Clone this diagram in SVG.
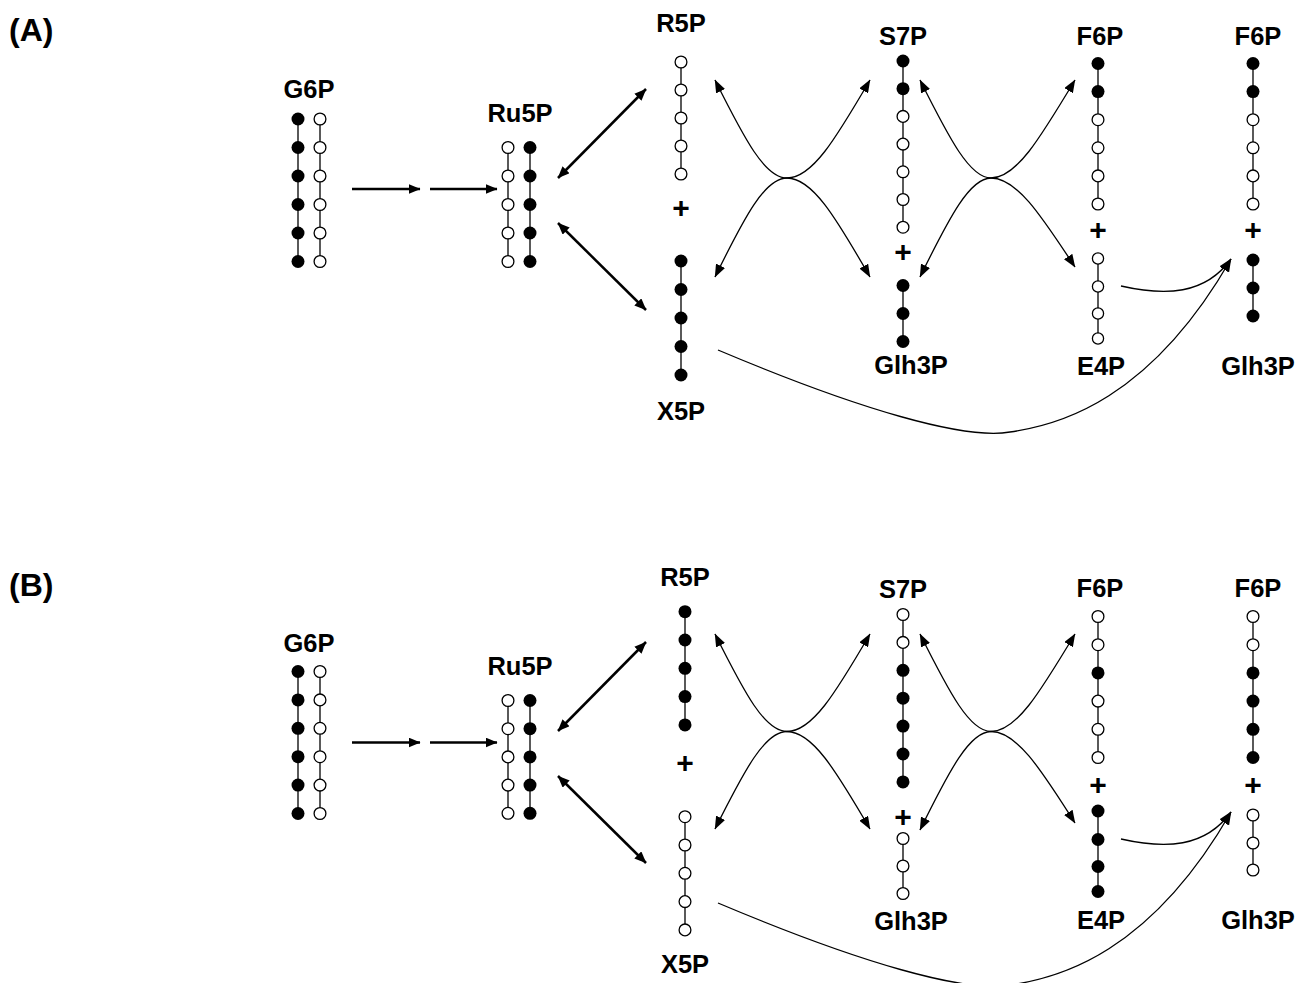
<svg xmlns="http://www.w3.org/2000/svg" width="1300" height="983" viewBox="0 0 1300 983">
<defs>
<style>
.lbl{font-family:"Liberation Sans",Arial,sans-serif;font-weight:bold;font-size:25.5px;text-anchor:middle;fill:#000}
.pan{font-family:"Liberation Sans",Arial,sans-serif;font-weight:bold;font-size:32px;fill:#000}
.pl{font-family:"Liberation Sans",Arial,sans-serif;font-weight:bold;font-size:30px;text-anchor:middle;fill:#000}
.ch{stroke:#000;stroke-width:1.3;fill:none}
.b{fill:#000}
.w{fill:#fff;stroke:#000;stroke-width:1.3}
.thick{stroke:#000;stroke-width:2.5;fill:none}
.thin{stroke:#000;stroke-width:1.3;fill:none}
</style>
<marker id="ahK" viewBox="0 0 12 10" refX="11.5" refY="5" markerWidth="12" markerHeight="10" markerUnits="userSpaceOnUse" orient="auto-start-reverse"><path d="M0,0 L12,5 L0,10 z" fill="#000"/></marker>
<marker id="ahT" viewBox="0 0 13 10" refX="12.5" refY="5" markerWidth="13" markerHeight="10" markerUnits="userSpaceOnUse" orient="auto-start-reverse"><path d="M0,0 L13,5 L0,10 z" fill="#000"/></marker>
</defs>
<rect width="1300" height="983" fill="#fff"/>

<text class="pan" x="9" y="41">(A)</text>
<text class="pan" x="9" y="596">(B)</text>

<g id="connectors">
<path class="thick" d="M352,189 L420,189" marker-end="url(#ahK)"/>
<path class="thick" d="M430,189 L497,189" marker-end="url(#ahK)"/>
<path class="thick" d="M558,178 L646,89" marker-start="url(#ahK)" marker-end="url(#ahK)"/>
<path class="thick" d="M558,223 L646,310" marker-start="url(#ahK)" marker-end="url(#ahK)"/>
<path class="thin" d="M715,80 C745,140 765,178 787,178 C812,178 835,140 870,80" marker-start="url(#ahT)" marker-end="url(#ahT)"/>
<path class="thin" d="M715,277 C745,216 765,178 787,178 C812,178 835,216 870,277" marker-start="url(#ahT)" marker-end="url(#ahT)"/>
<path class="thin" d="M920,80 C950,140 970,178 991,178 C1016,178 1039,140 1075,80" marker-start="url(#ahT)" marker-end="url(#ahT)"/>
<path class="thin" d="M920,277 C950,216 970,178 991,178 C1016,178 1039,212 1075,267" marker-start="url(#ahT)" marker-end="url(#ahT)"/>
<path class="thin" d="M1121,286 C1165,296 1205,295 1231,259" marker-end="url(#ahT)"/>
<path class="thin" d="M718,350 C860,410 965,440 1010,432 C1060,425 1150,400 1231,259" marker-end="url(#ahT)"/>

<path class="thick" d="M352,742.5 L420,742.5" marker-end="url(#ahK)"/>
<path class="thick" d="M430,742.5 L497,742.5" marker-end="url(#ahK)"/>
<path class="thick" d="M558,731 L646,642" marker-start="url(#ahK)" marker-end="url(#ahK)"/>
<path class="thick" d="M558,776 L646,863" marker-start="url(#ahK)" marker-end="url(#ahK)"/>
<path class="thin" d="M715,634 C745,694 765,731.5 787,731.5 C812,731.5 835,694 870,634" marker-start="url(#ahT)" marker-end="url(#ahT)"/>
<path class="thin" d="M715,829 C745,769 765,731.5 787,731.5 C812,731.5 835,769 870,829" marker-start="url(#ahT)" marker-end="url(#ahT)"/>
<path class="thin" d="M920,634 C950,694 970,731.5 991,731.5 C1016,731.5 1039,694 1075,634" marker-start="url(#ahT)" marker-end="url(#ahT)"/>
<path class="thin" d="M920,830 C950,769 970,731.5 991,731.5 C1016,731.5 1039,766 1075,823" marker-start="url(#ahT)" marker-end="url(#ahT)"/>
<path class="thin" d="M1121,839 C1165,849 1205,848 1231,812" marker-end="url(#ahT)"/>
<path class="thin" d="M718,903 C860,963 965,993 1010,985 C1060,978 1150,953 1231,812" marker-end="url(#ahT)"/>
</g>

<!-- Panel A -->
<g id="a-g6p">
<text class="lbl" x="309" y="98">G6P</text>
<line class="ch" x1="298" y1="119" x2="298" y2="261.5"/>
<line class="ch" x1="320" y1="119" x2="320" y2="261.5"/>
<circle class="b" cx="298" cy="119" r="6.5"/><circle class="b" cx="298" cy="147.5" r="6.5"/><circle class="b" cx="298" cy="176" r="6.5"/><circle class="b" cx="298" cy="204.5" r="6.5"/><circle class="b" cx="298" cy="233" r="6.5"/><circle class="b" cx="298" cy="261.5" r="6.5"/>
<circle class="w" cx="320" cy="119" r="5.9"/><circle class="w" cx="320" cy="147.5" r="5.9"/><circle class="w" cx="320" cy="176" r="5.9"/><circle class="w" cx="320" cy="204.5" r="5.9"/><circle class="w" cx="320" cy="233" r="5.9"/><circle class="w" cx="320" cy="261.5" r="5.9"/>
</g>
<g id="a-ru5p">
<text class="lbl" x="520" y="121.5">Ru5P</text>
<line class="ch" x1="508" y1="147.5" x2="508" y2="261.5"/>
<line class="ch" x1="530" y1="147.5" x2="530" y2="261.5"/>
<circle class="w" cx="508" cy="147.5" r="5.9"/><circle class="w" cx="508" cy="176" r="5.9"/><circle class="w" cx="508" cy="204.5" r="5.9"/><circle class="w" cx="508" cy="233" r="5.9"/><circle class="w" cx="508" cy="261.5" r="5.9"/>
<circle class="b" cx="530" cy="147.5" r="6.5"/><circle class="b" cx="530" cy="176" r="6.5"/><circle class="b" cx="530" cy="204.5" r="6.5"/><circle class="b" cx="530" cy="233" r="6.5"/><circle class="b" cx="530" cy="261.5" r="6.5"/>
</g>
<g id="a-r5p">
<text class="lbl" x="681" y="31.5">R5P</text>
<line class="ch" x1="681" y1="62" x2="681" y2="174"/>
<circle class="w" cx="681" cy="62" r="5.9"/><circle class="w" cx="681" cy="90" r="5.9"/><circle class="w" cx="681" cy="118" r="5.9"/><circle class="w" cx="681" cy="146" r="5.9"/><circle class="w" cx="681" cy="174" r="5.9"/>
</g>
<g id="a-plus-1"><text class="pl" x="681" y="218">+</text></g>
<g id="a-x5p">
<text class="lbl" x="681" y="420">X5P</text>
<line class="ch" x1="681" y1="261" x2="681" y2="375"/>
<circle class="b" cx="681" cy="261" r="6.5"/><circle class="b" cx="681" cy="289.5" r="6.5"/><circle class="b" cx="681" cy="318" r="6.5"/><circle class="b" cx="681" cy="346.5" r="6.5"/><circle class="b" cx="681" cy="375" r="6.5"/>
</g>
<g id="a-s7p">
<text class="lbl" x="903" y="45">S7P</text>
<line class="ch" x1="903" y1="61" x2="903" y2="227.2"/>
<circle class="b" cx="903" cy="61" r="6.5"/><circle class="b" cx="903" cy="88.7" r="6.5"/><circle class="w" cx="903" cy="116.4" r="5.9"/><circle class="w" cx="903" cy="144.1" r="5.9"/><circle class="w" cx="903" cy="171.8" r="5.9"/><circle class="w" cx="903" cy="199.5" r="5.9"/><circle class="w" cx="903" cy="227.2" r="5.9"/>
</g>
<g id="a-plus-2"><text class="pl" x="903" y="262">+</text></g>
<g id="a-glh3p-1">
<text class="lbl" x="911" y="374">Glh3P</text>
<line class="ch" x1="903" y1="285.5" x2="903" y2="341.5"/>
<circle class="b" cx="903" cy="285.5" r="6.5"/><circle class="b" cx="903" cy="313.5" r="6.5"/><circle class="b" cx="903" cy="341.5" r="6.5"/>
</g>
<g id="a-f6p-1">
<text class="lbl" x="1100" y="45">F6P</text>
<line class="ch" x1="1098" y1="63.5" x2="1098" y2="204"/>
<circle class="b" cx="1098" cy="63.5" r="6.5"/><circle class="b" cx="1098" cy="91.6" r="6.5"/><circle class="w" cx="1098" cy="119.7" r="5.9"/><circle class="w" cx="1098" cy="147.8" r="5.9"/><circle class="w" cx="1098" cy="175.9" r="5.9"/><circle class="w" cx="1098" cy="204" r="5.9"/>
</g>
<g id="a-plus-3"><text class="pl" x="1098" y="240">+</text></g>
<g id="a-e4p">
<text class="lbl" x="1101" y="375">E4P</text>
<line class="ch" x1="1098" y1="258.5" x2="1098" y2="338.5"/>
<circle class="w" cx="1098" cy="258.5" r="5.6"/><circle class="w" cx="1098" cy="286.5" r="5.6"/><circle class="w" cx="1098" cy="313.5" r="5.6"/><circle class="w" cx="1098" cy="338.5" r="5.6"/>
</g>
<g id="a-f6p-2">
<text class="lbl" x="1258" y="45">F6P</text>
<line class="ch" x1="1253" y1="63.5" x2="1253" y2="204"/>
<circle class="b" cx="1253" cy="63.5" r="6.5"/><circle class="b" cx="1253" cy="91.6" r="6.5"/><circle class="w" cx="1253" cy="119.7" r="5.9"/><circle class="w" cx="1253" cy="147.8" r="5.9"/><circle class="w" cx="1253" cy="175.9" r="5.9"/><circle class="w" cx="1253" cy="204" r="5.9"/>
</g>
<g id="a-plus-4"><text class="pl" x="1253" y="240">+</text></g>
<g id="a-glh3p-2">
<text class="lbl" x="1258" y="375">Glh3P</text>
<line class="ch" x1="1253" y1="260" x2="1253" y2="316"/>
<circle class="b" cx="1253" cy="260" r="6.5"/><circle class="b" cx="1253" cy="288" r="6.5"/><circle class="b" cx="1253" cy="316" r="6.5"/>
</g>

<!-- Panel B -->
<g id="b-g6p">
<text class="lbl" x="309" y="651.5">G6P</text>
<line class="ch" x1="298" y1="671.5" x2="298" y2="813.5"/>
<line class="ch" x1="320" y1="671.5" x2="320" y2="813.5"/>
<circle class="b" cx="298" cy="671.5" r="6.5"/><circle class="b" cx="298" cy="699.9" r="6.5"/><circle class="b" cx="298" cy="728.3" r="6.5"/><circle class="b" cx="298" cy="756.7" r="6.5"/><circle class="b" cx="298" cy="785.1" r="6.5"/><circle class="b" cx="298" cy="813.5" r="6.5"/>
<circle class="w" cx="320" cy="671.5" r="5.9"/><circle class="w" cx="320" cy="699.9" r="5.9"/><circle class="w" cx="320" cy="728.3" r="5.9"/><circle class="w" cx="320" cy="756.7" r="5.9"/><circle class="w" cx="320" cy="785.1" r="5.9"/><circle class="w" cx="320" cy="813.5" r="5.9"/>
</g>
<g id="b-ru5p">
<text class="lbl" x="520" y="675">Ru5P</text>
<line class="ch" x1="508" y1="700.5" x2="508" y2="813.3"/>
<line class="ch" x1="530" y1="700.5" x2="530" y2="813.3"/>
<circle class="w" cx="508" cy="700.5" r="5.9"/><circle class="w" cx="508" cy="728.7" r="5.9"/><circle class="w" cx="508" cy="756.9" r="5.9"/><circle class="w" cx="508" cy="785.1" r="5.9"/><circle class="w" cx="508" cy="813.3" r="5.9"/>
<circle class="b" cx="530" cy="700.5" r="6.5"/><circle class="b" cx="530" cy="728.7" r="6.5"/><circle class="b" cx="530" cy="756.9" r="6.5"/><circle class="b" cx="530" cy="785.1" r="6.5"/><circle class="b" cx="530" cy="813.3" r="6.5"/>
</g>
<g id="b-r5p">
<text class="lbl" x="685" y="586">R5P</text>
<line class="ch" x1="685" y1="611.7" x2="685" y2="724.9"/>
<circle class="b" cx="685" cy="611.7" r="6.5"/><circle class="b" cx="685" cy="640" r="6.5"/><circle class="b" cx="685" cy="668.3" r="6.5"/><circle class="b" cx="685" cy="696.6" r="6.5"/><circle class="b" cx="685" cy="724.9" r="6.5"/>
</g>
<g id="b-plus-1"><text class="pl" x="685" y="773">+</text></g>
<g id="b-x5p">
<text class="lbl" x="685" y="973">X5P</text>
<line class="ch" x1="685" y1="816.7" x2="685" y2="929.9"/>
<circle class="w" cx="685" cy="816.7" r="5.9"/><circle class="w" cx="685" cy="845" r="5.9"/><circle class="w" cx="685" cy="873.3" r="5.9"/><circle class="w" cx="685" cy="901.6" r="5.9"/><circle class="w" cx="685" cy="929.9" r="5.9"/>
</g>
<g id="b-s7p">
<text class="lbl" x="903" y="598">S7P</text>
<line class="ch" x1="903" y1="614.5" x2="903" y2="781.9"/>
<circle class="w" cx="903" cy="614.5" r="5.9"/><circle class="w" cx="903" cy="642.4" r="5.9"/><circle class="b" cx="903" cy="670.3" r="6.5"/><circle class="b" cx="903" cy="698.2" r="6.5"/><circle class="b" cx="903" cy="726.1" r="6.5"/><circle class="b" cx="903" cy="754" r="6.5"/><circle class="b" cx="903" cy="781.9" r="6.5"/>
</g>
<g id="b-plus-2"><text class="pl" x="903" y="827">+</text></g>
<g id="b-glh3p-1">
<text class="lbl" x="911" y="930">Glh3P</text>
<line class="ch" x1="903" y1="838.5" x2="903" y2="893.5"/>
<circle class="w" cx="903" cy="838.5" r="5.9"/><circle class="w" cx="903" cy="866" r="5.9"/><circle class="w" cx="903" cy="893.5" r="5.9"/>
</g>
<g id="b-f6p-1">
<text class="lbl" x="1100" y="597">F6P</text>
<line class="ch" x1="1098" y1="616.5" x2="1098" y2="757.5"/>
<circle class="w" cx="1098" cy="616.5" r="5.9"/><circle class="w" cx="1098" cy="644.7" r="5.9"/><circle class="b" cx="1098" cy="672.9" r="6.5"/><circle class="w" cx="1098" cy="701.1" r="5.9"/><circle class="w" cx="1098" cy="729.3" r="5.9"/><circle class="w" cx="1098" cy="757.5" r="5.9"/>
</g>
<g id="b-plus-3"><text class="pl" x="1098" y="795">+</text></g>
<g id="b-e4p">
<text class="lbl" x="1101" y="929">E4P</text>
<line class="ch" x1="1098" y1="811" x2="1098" y2="891.5"/>
<circle class="b" cx="1098" cy="811" r="6.5"/><circle class="b" cx="1098" cy="839.5" r="6.5"/><circle class="b" cx="1098" cy="866.5" r="6.5"/><circle class="b" cx="1098" cy="891.5" r="6.5"/>
</g>
<g id="b-f6p-2">
<text class="lbl" x="1258" y="597">F6P</text>
<line class="ch" x1="1253" y1="616.5" x2="1253" y2="757.5"/>
<circle class="w" cx="1253" cy="616.5" r="5.9"/><circle class="w" cx="1253" cy="644.7" r="5.9"/><circle class="b" cx="1253" cy="672.9" r="6.5"/><circle class="b" cx="1253" cy="701.1" r="6.5"/><circle class="b" cx="1253" cy="729.3" r="6.5"/><circle class="b" cx="1253" cy="757.5" r="6.5"/>
</g>
<g id="b-plus-4"><text class="pl" x="1253" y="795">+</text></g>
<g id="b-glh3p-2">
<text class="lbl" x="1258" y="929">Glh3P</text>
<line class="ch" x1="1253" y1="815" x2="1253" y2="870"/>
<circle class="w" cx="1253" cy="815" r="5.9"/><circle class="w" cx="1253" cy="843" r="5.9"/><circle class="w" cx="1253" cy="870" r="5.9"/>
</g>
</svg>
